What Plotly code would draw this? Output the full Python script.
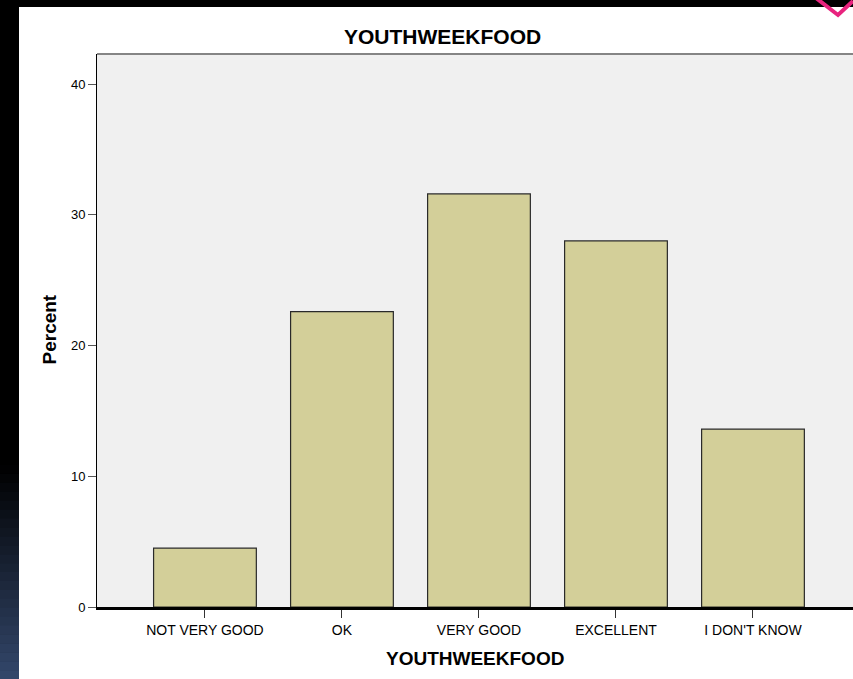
import plotly.graph_objects as go

categories = ["NOT VERY GOOD", "OK", "VERY GOOD", "EXCELLENT", "I DON'T KNOW"]
percent = [4.5, 22.6, 31.6, 28.0, 13.6]
y_ticks = [0, 10, 20, 30, 40]

W, H = 853, 679
L, R, T, B = 97, 0, 54, 72
PW, PH = W - L - R, H - T - B


def px(x):
    return (x - L) / PW


def py(y):
    return (H - B - y) / PH


fig = go.Figure()
fig.add_trace(go.Bar(
    x=categories, y=percent, width=0.75,
    marker=dict(color="#d3cf99", line=dict(color="#2a2a2a", width=1.2)),
    hoverinfo="x+y",
))

shapes = []
# black frame strips (left and top)
shapes.append(dict(type="rect", xref="paper", yref="paper", x0=px(0), x1=px(19), y0=py(H), y1=py(0),
                   fillcolor="black", line=dict(width=0), layer="above"))
shapes.append(dict(type="rect", xref="paper", yref="paper", x0=px(0), x1=px(W), y0=py(7), y1=py(0),
                   fillcolor="black", line=dict(width=0), layer="above"))
# gradient at the bottom of the left strip
n = 24
y_start, y_end = 465, H
for i in range(n):
    t = (i + 0.5) / n
    c = f"rgb({int(52*t)},{int(72*t)},{int(108*t)})"
    ya = y_start + (y_end - y_start) * i / n
    yb = y_start + (y_end - y_start) * (i + 1) / n + 0.5
    shapes.append(dict(type="rect", xref="paper", yref="paper", x0=px(0), x1=px(19), y0=py(yb), y1=py(ya),
                       fillcolor=c, line=dict(width=0), layer="above"))
# pink chevron at the top right
shapes.append(dict(type="path", xref="paper", yref="paper",
                   path=f"M {px(816)},{py(-2)} L {px(838)},{py(15)} L {px(853)},{py(1)}",
                   line=dict(color="#e8237e", width=4), layer="above"))
# gray top border of plot area
shapes.append(dict(type="line", xref="paper", yref="paper", x0=0, x1=1, y0=1, y1=1,
                   line=dict(color="#858585", width=2), layer="above"))

annotations = [
    dict(text="YOUTHWEEKFOOD", xref="paper", yref="paper", x=px(442.5), y=py(37),
         showarrow=False, xanchor="center", yanchor="middle",
         font=dict(family="Liberation Sans, Arial", size=21, color="black", weight="bold")),
    dict(text="YOUTHWEEKFOOD", xref="paper", yref="paper", x=px(475), y=py(658.5),
         showarrow=False, xanchor="center", yanchor="middle",
         font=dict(family="Liberation Sans, Arial", size=19, color="black", weight="bold")),
    dict(text="Percent", xref="paper", yref="paper", x=px(48.5), y=py(330), textangle=-90,
         showarrow=False, xanchor="center", yanchor="middle",
         font=dict(family="Liberation Sans, Arial", size=19, color="black", weight="bold")),
]

fig.update_layout(
    width=W, height=H,
    margin=dict(l=L, r=R, t=T, b=B, pad=0),
    paper_bgcolor="white", plot_bgcolor="#f0f0f0",
    showlegend=False, bargap=0.25,
    shapes=shapes, annotations=annotations,
    font=dict(family="Liberation Sans, Arial", size=13, color="black"),
    xaxis=dict(type="category", range=[-0.788, 4.73], showgrid=False, zeroline=False,
               showline=True, linecolor="black", linewidth=3,
               ticks="outside", ticklen=8, tickwidth=1, tickcolor="#333",
               tickfont=dict(size=14, color="black")),
    yaxis=dict(range=[0, 42.3], tickvals=y_ticks, showgrid=False, zeroline=False,
               showline=True, linecolor="black", linewidth=1,
               ticks="outside", ticklen=8, tickwidth=1, tickcolor="#555",
               tickfont=dict(size=13, color="black")),
)

fig.write_html("out.html", config={"displayModeBar": False},
               post_script="document.body.style.margin='0px';document.body.style.overflow='hidden';document.body.style.background='black';")
